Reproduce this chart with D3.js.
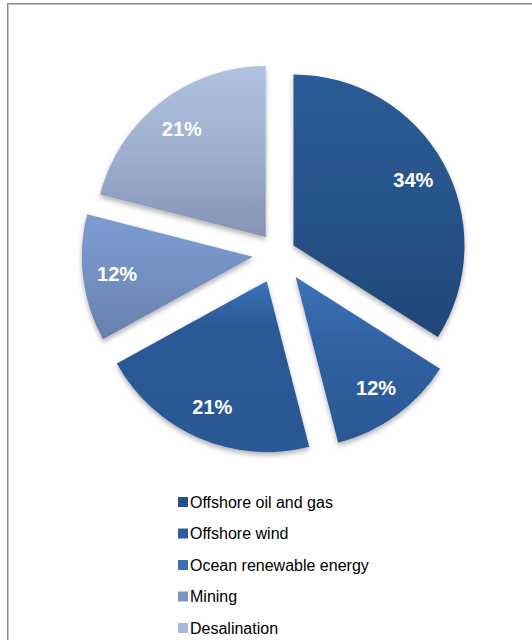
<!DOCTYPE html>
<html>
<head>
<meta charset="utf-8">
<script src="https://cdn.jsdelivr.net/npm/d3@7"></script>
<style>
  html, body { margin: 0; padding: 0; background: #fff; }
  svg { display: block; }
</style>
</head>
<body>
<svg id="chart" width="532" height="640"></svg>
<script>
// ---- data ----
const categories = ["Offshore oil and gas", "Offshore wind", "Ocean renewable energy", "Mining", "Desalination"];
const values = [34, 12, 21, 12, 21];
const labels = ["34%", "12%", "21%", "12%", "21%"];
const explode = [17, 29, 30, 26, 21];
const gradTop = ["#2c5b96", "#3a72b8", "#3a74bb", "#7c9dd2", "#b1c2e1"];
const gradMid = ["#28538a", "#305fa0", "#2c5a96", "#7390c2", "#9eafcf"];
const gradBot = ["#214677", "#2b5894", "#2b5894", "#6880aa", "#8593b3"];
const legendColors = ["#254f86", "#2d5c9c", "#3a70b8", "#7b96c6", "#a9b9d8"];

const svg = d3.select("#chart");
const defs = svg.append("defs");

// border
svg.append("rect").attr("x", 7.5).attr("y", 3.5).attr("width", 700).attr("height", 800)
  .attr("fill", "none").attr("stroke", "#8a8a8a").attr("stroke-width", 1);
svg.append("rect").attr("x", 8.5).attr("y", 4.5).attr("width", 700).attr("height", 800)
  .attr("fill", "none").attr("stroke", "#c4c4c4").attr("stroke-width", 1);

// shadow
const f = defs.append("filter").attr("id", "shadow").attr("x", "-20%").attr("y", "-20%")
  .attr("width", "140%").attr("height", "140%");
f.append("feDropShadow").attr("dx", 0).attr("dy", 3).attr("stdDeviation", 2.5)
  .attr("flood-color", "#000").attr("flood-opacity", 0.3);

categories.forEach((c, i) => {
  const g = defs.append("linearGradient").attr("id", "g" + i)
    .attr("x1", 0).attr("y1", 0).attr("x2", 0).attr("y2", 1);
  g.append("stop").attr("offset", "0%").attr("stop-color", gradTop[i]);
  g.append("stop").attr("offset", i === 2 ? "25%" : "50%").attr("stop-color", gradMid[i]);
  g.append("stop").attr("offset", "100%").attr("stop-color", gradBot[i]);
});

const cx = 278.6, cy = 253.6, r = 171;
const pie = d3.pie().sort(null).value(d => d).startAngle(0).endAngle(2 * Math.PI);
const arcs = pie(values);
const arc = d3.arc().innerRadius(0).outerRadius(r);
const labelArc = d3.arc().innerRadius(r * 0.8).outerRadius(r * 0.8);

const pieG = svg.append("g").attr("transform", `translate(${cx},${cy})`);
const slices = pieG.selectAll("g.slice").data(arcs).join("g").attr("class", "slice")
  .attr("transform", (d, i) => {
    const m = (d.startAngle + d.endAngle) / 2;
    return `translate(${explode[i] * Math.sin(m)},${-explode[i] * Math.cos(m)})`;
  });

slices.append("path").attr("d", arc).attr("fill", (d, i) => `url(#g${i})`)
  .attr("filter", "url(#shadow)");

slices.append("text")
  .attr("transform", d => `translate(${labelArc.centroid(d)})`)
  .attr("text-anchor", "middle").attr("dy", "0.36em")
  .attr("font-family", "Liberation Sans, Arial, sans-serif")
  .attr("font-weight", "bold").attr("font-size", 20).attr("fill", "#fff")
  .text((d, i) => labels[i]);

// legend
const ly = d3.scalePoint().domain(categories).range([502, 628]);
const leg = svg.append("g").selectAll("g").data(categories).join("g")
  .attr("transform", d => `translate(178,${ly(d)})`);
leg.append("rect").attr("x", 0).attr("y", -5).attr("width", 10).attr("height", 10)
  .attr("fill", (d, i) => legendColors[i]);
leg.append("text").attr("x", 12).attr("dy", "0.36em")
  .attr("font-family", "Liberation Sans, Arial, sans-serif").attr("font-size", 16)
  .attr("fill", "#000").text(d => d);
</script>
</body>
</html>
